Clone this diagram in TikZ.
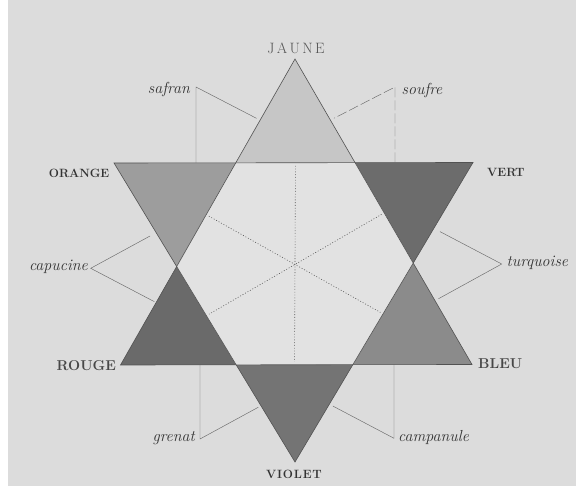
\documentclass[tikz,border=0pt]{standalone}
\usetikzlibrary{calc}
\definecolor{paper}{HTML}{DCDCDC}
\definecolor{hexfill}{HTML}{E2E2E2}
\definecolor{cjaune}{HTML}{C6C6C6}
\definecolor{corange}{HTML}{9D9D9D}
\definecolor{cvert}{HTML}{6C6C6C}
\definecolor{cbleu}{HTML}{8B8B8B}
\definecolor{cviolet}{HTML}{747474}
\definecolor{crouge}{HTML}{6A6A6A}
\definecolor{inkdark}{HTML}{333333}
\definecolor{inkmid}{HTML}{555555}
\definecolor{inklight}{HTML}{6A6A6A}
\newcommand\kk{\kern2.4pt}
\newcommand\kv{\kern0.8pt}
\begin{document}
\begin{tikzpicture}[x=1pt,y=-1pt,
  edgeline/.style={draw=inkdark!85, line width=0.6pt, line join=miter},
  dotline/.style={draw=inkmid, line width=0.6pt, dash pattern=on 0.9pt off 1.9pt, shorten <=3pt, shorten >=3pt},
  leader/.style={draw=inklight, line width=0.45pt},
  capsA/.style={inner sep=0pt, text=inkmid, font=\fontsize{15}{15}\selectfont},
  capsB/.style={inner sep=0pt, text=inkdark, font=\fontsize{12}{12}\selectfont\bfseries},
  capsC/.style={inner sep=0pt, text=inkdark!90, font=\fontsize{14.3}{14.3}\selectfont\bfseries},
  ital/.style={inner sep=0pt, text=inkdark, font=\fontsize{16}{16}\selectfont\itshape}]
\fill[white] (0,0) rectangle (576,494);
\fill[paper] (8,0) rectangle (576,486);
\useasboundingbox (0,0) rectangle (576,494);
% vertices
\coordinate (J) at (295,59);
\coordinate (R) at (120.5,365);
\coordinate (B) at (472,364.5);
\coordinate (O) at (114,163);
\coordinate (V) at (473,162.5);
\coordinate (Vi) at (295,462);
\coordinate (P1) at (intersection of J--R and O--V);
\coordinate (P2) at (intersection of J--B and O--V);
\coordinate (P3) at (intersection of J--B and V--Vi);
\coordinate (P4) at (intersection of R--B and V--Vi);
\coordinate (P5) at (intersection of R--B and O--Vi);
\coordinate (P6) at (intersection of J--R and O--Vi);
% fills
\fill[cjaune] (J)--(P1)--(P2)--cycle;
\fill[cvert] (V)--(P2)--(P3)--cycle;
\fill[cbleu] (B)--(P3)--(P4)--cycle;
\fill[cviolet] (Vi)--(P4)--(P5)--cycle;
\fill[crouge] (R)--(P5)--(P6)--cycle;
\fill[corange] (O)--(P6)--(P1)--cycle;
\fill[hexfill] (P1)--(P2)--(P3)--(P4)--(P5)--(P6)--cycle;
% dotted axes
\coordinate (M12) at ($(P1)!0.5!(P2)$);
\coordinate (M23) at ($(P2)!0.5!(P3)$);
\coordinate (M34) at ($(P3)!0.5!(P4)$);
\coordinate (M45) at ($(P4)!0.5!(P5)$);
\coordinate (M56) at ($(P5)!0.5!(P6)$);
\coordinate (M61) at ($(P6)!0.5!(P1)$);
\draw[dotline] (M12) -- (M45);
\draw[dotline] (M23) -- (M56);
\draw[dotline] (M61) -- (M34);
% outlines
\draw[edgeline] (J)--(R)--(B)--cycle;
\draw[edgeline] (O)--(V)--(Vi)--cycle;
% main labels
\node[capsA, anchor=base] (jaune) at (296,53.3) {J\kk A\kk U\kk N\kk E};
\node[capsB, anchor=base east] (orange) at (109.5,178) {ORANGE};
\node[capsB, anchor=base west] (vert) at (487,176.5) {VERT};
\node[capsC, anchor=base east] (rouge) at (116,370.7) {ROUGE};
\node[capsC, anchor=base west] (bleu) at (478,368.3) {BLEU};
\node[capsB, anchor=base] (violet) at (294,478.7) {V\kv I\kv O\kv L\kv E\kv T};
% intermediate labels
\node[ital, anchor=base east] (safran) at (190,94) {safran};
\node[ital, anchor=base west] (soufre) at (401.5,95) {soufre};
\node[ital, anchor=base east] (capucine) at (88,271) {capucine};
\node[ital, anchor=base west] (turquoise) at (506.5,267) {turquoise};
\node[ital, anchor=base east] (grenat) at (195,442) {grenat};
\node[ital, anchor=base west] (campanule) at (398,441) {campanule};
% leader corners
\coordinate (saf) at (196,87);
\coordinate (sou) at (395,87);
\coordinate (cap) at (90.7,268.3);
\coordinate (tur) at (501.7,264);
\coordinate (gre) at (200,439);
\coordinate (cam) at (394,438.3);
% leader ends on the edges
\coordinate (sa1) at ($(J)!0.2!(R)$);
\coordinate (sa2) at (saf |- O);
\coordinate (so1) at ($(J)!0.2!(B)$);
\coordinate (so2) at (sou |- V);
\coordinate (ca1) at ($(O)!0.233!(Vi)$);
\coordinate (ca2) at ($(J)!0.796!(R)$);
\coordinate (tu1) at ($(V)!0.22!(Vi)$);
\coordinate (tu2) at ($(J)!0.791!(B)$);
\coordinate (gr1) at ($(O)!0.812!(Vi)$);
\coordinate (gr2) at (gre |- R);
\coordinate (cm1) at ($(V)!0.807!(Vi)$);
\coordinate (cm2) at (cam |- B);
% leaders
\draw[leader, shorten >=4pt] (sa2) -- (saf) -- (sa1);
\draw[leader, dash pattern=on 10pt off 3pt, shorten >=4pt] (so2) -- (sou) -- (so1);
\draw[leader, shorten <=7pt, shorten >=2pt] (ca1) -- (cap) -- (ca2);
\draw[leader, shorten <=7pt, shorten >=4pt] (tu1) -- (tur) -- (tu2);
\draw[leader, shorten >=3pt] (gr2) -- (gre) -- (gr1);
\draw[leader, shorten >=4pt] (cm2) -- (cam) -- (cm1);
\end{tikzpicture}
\end{document}
